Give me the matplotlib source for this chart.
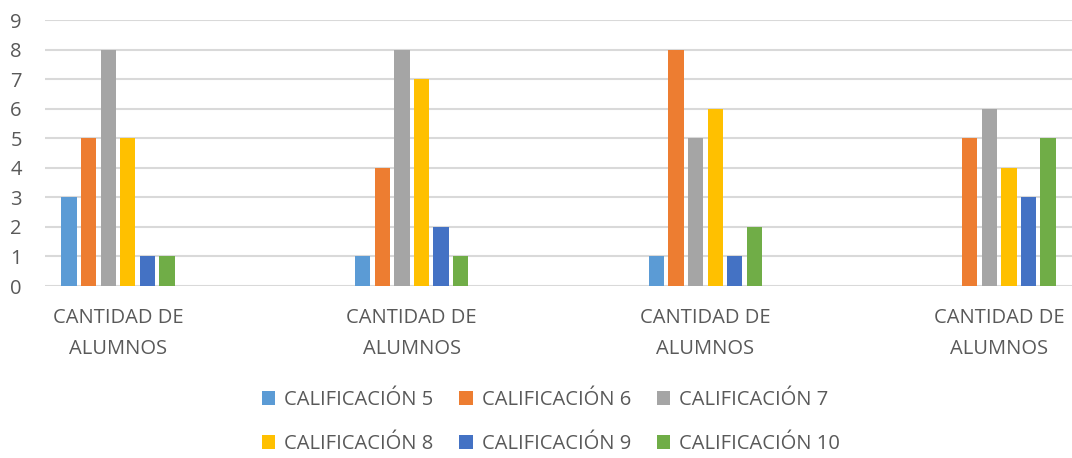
import numpy as np
import matplotlib.pyplot as plt
from matplotlib.patches import Patch

categories = ["CANTIDAD DE\nALUMNOS"] * 4
series_names = ["CALIFICACIÓN 5", "CALIFICACIÓN 6", "CALIFICACIÓN 7",
                "CALIFICACIÓN 8", "CALIFICACIÓN 9", "CALIFICACIÓN 10"]
cal5 = [3, 1, 1, 0]
cal6 = [5, 4, 8, 5]
cal7 = [8, 8, 5, 6]
cal8 = [5, 7, 6, 4]
cal9 = [1, 2, 1, 3]
cal10 = [1, 1, 2, 5]
colors = ["#5B9BD5", "#ED7D31", "#A5A5A5", "#FFC000", "#4472C4", "#70AD47"]

plt.rcParams['font.family'] = ['Open Sans', 'DejaVu Sans']
txt = "#595959"

W, H = 1072, 458
fig = plt.figure(figsize=(W / 100, H / 100), dpi=100)
ax = fig.add_axes([45 / W, (H - 286) / H, (W - 45) / W, 266 / H])

x = np.arange(len(categories))
step = 0.0667
width = 0.052
allvals = [cal5, cal6, cal7, cal8, cal9, cal10]
for i, vals in enumerate(allvals):
    ax.bar(x + (i - 2.5) * step, vals, width, color=colors[i], zorder=3)

ax.set_ylim(0, 9)
ax.set_yticks(range(10))
ax.set_xlim(-0.2486, 3.248)
ax.set_xticks(x)
ax.set_xticklabels(categories, fontsize=14.5, color=txt, linespacing=1.7)
ax.tick_params(axis='y', labelsize=14.5, colors=txt, length=0, pad=25)
ax.tick_params(axis='x', length=0, pad=16)
for lab in ax.get_yticklabels():
    lab.set_horizontalalignment('left')
ax.yaxis.grid(True, color="#D9D9D9", linewidth=1.5, zorder=0)
for s in ax.spines.values():
    s.set_visible(False)

# legend filled row by row, like the original
order = [0, 3, 1, 4, 2, 5]
handles = [Patch(facecolor=colors[i]) for i in order]
labels = [series_names[i] for i in order]
fig.legend(handles, labels, ncol=3, loc='center',
           bbox_to_anchor=(0.514, 1 - 422 / H), frameon=False,
           fontsize=14.5, labelcolor=txt, handlelength=0.65, handleheight=0.65,
           handletextpad=0.45, columnspacing=1.3, labelspacing=1.2)

fig.savefig("out.png", dpi=100)
